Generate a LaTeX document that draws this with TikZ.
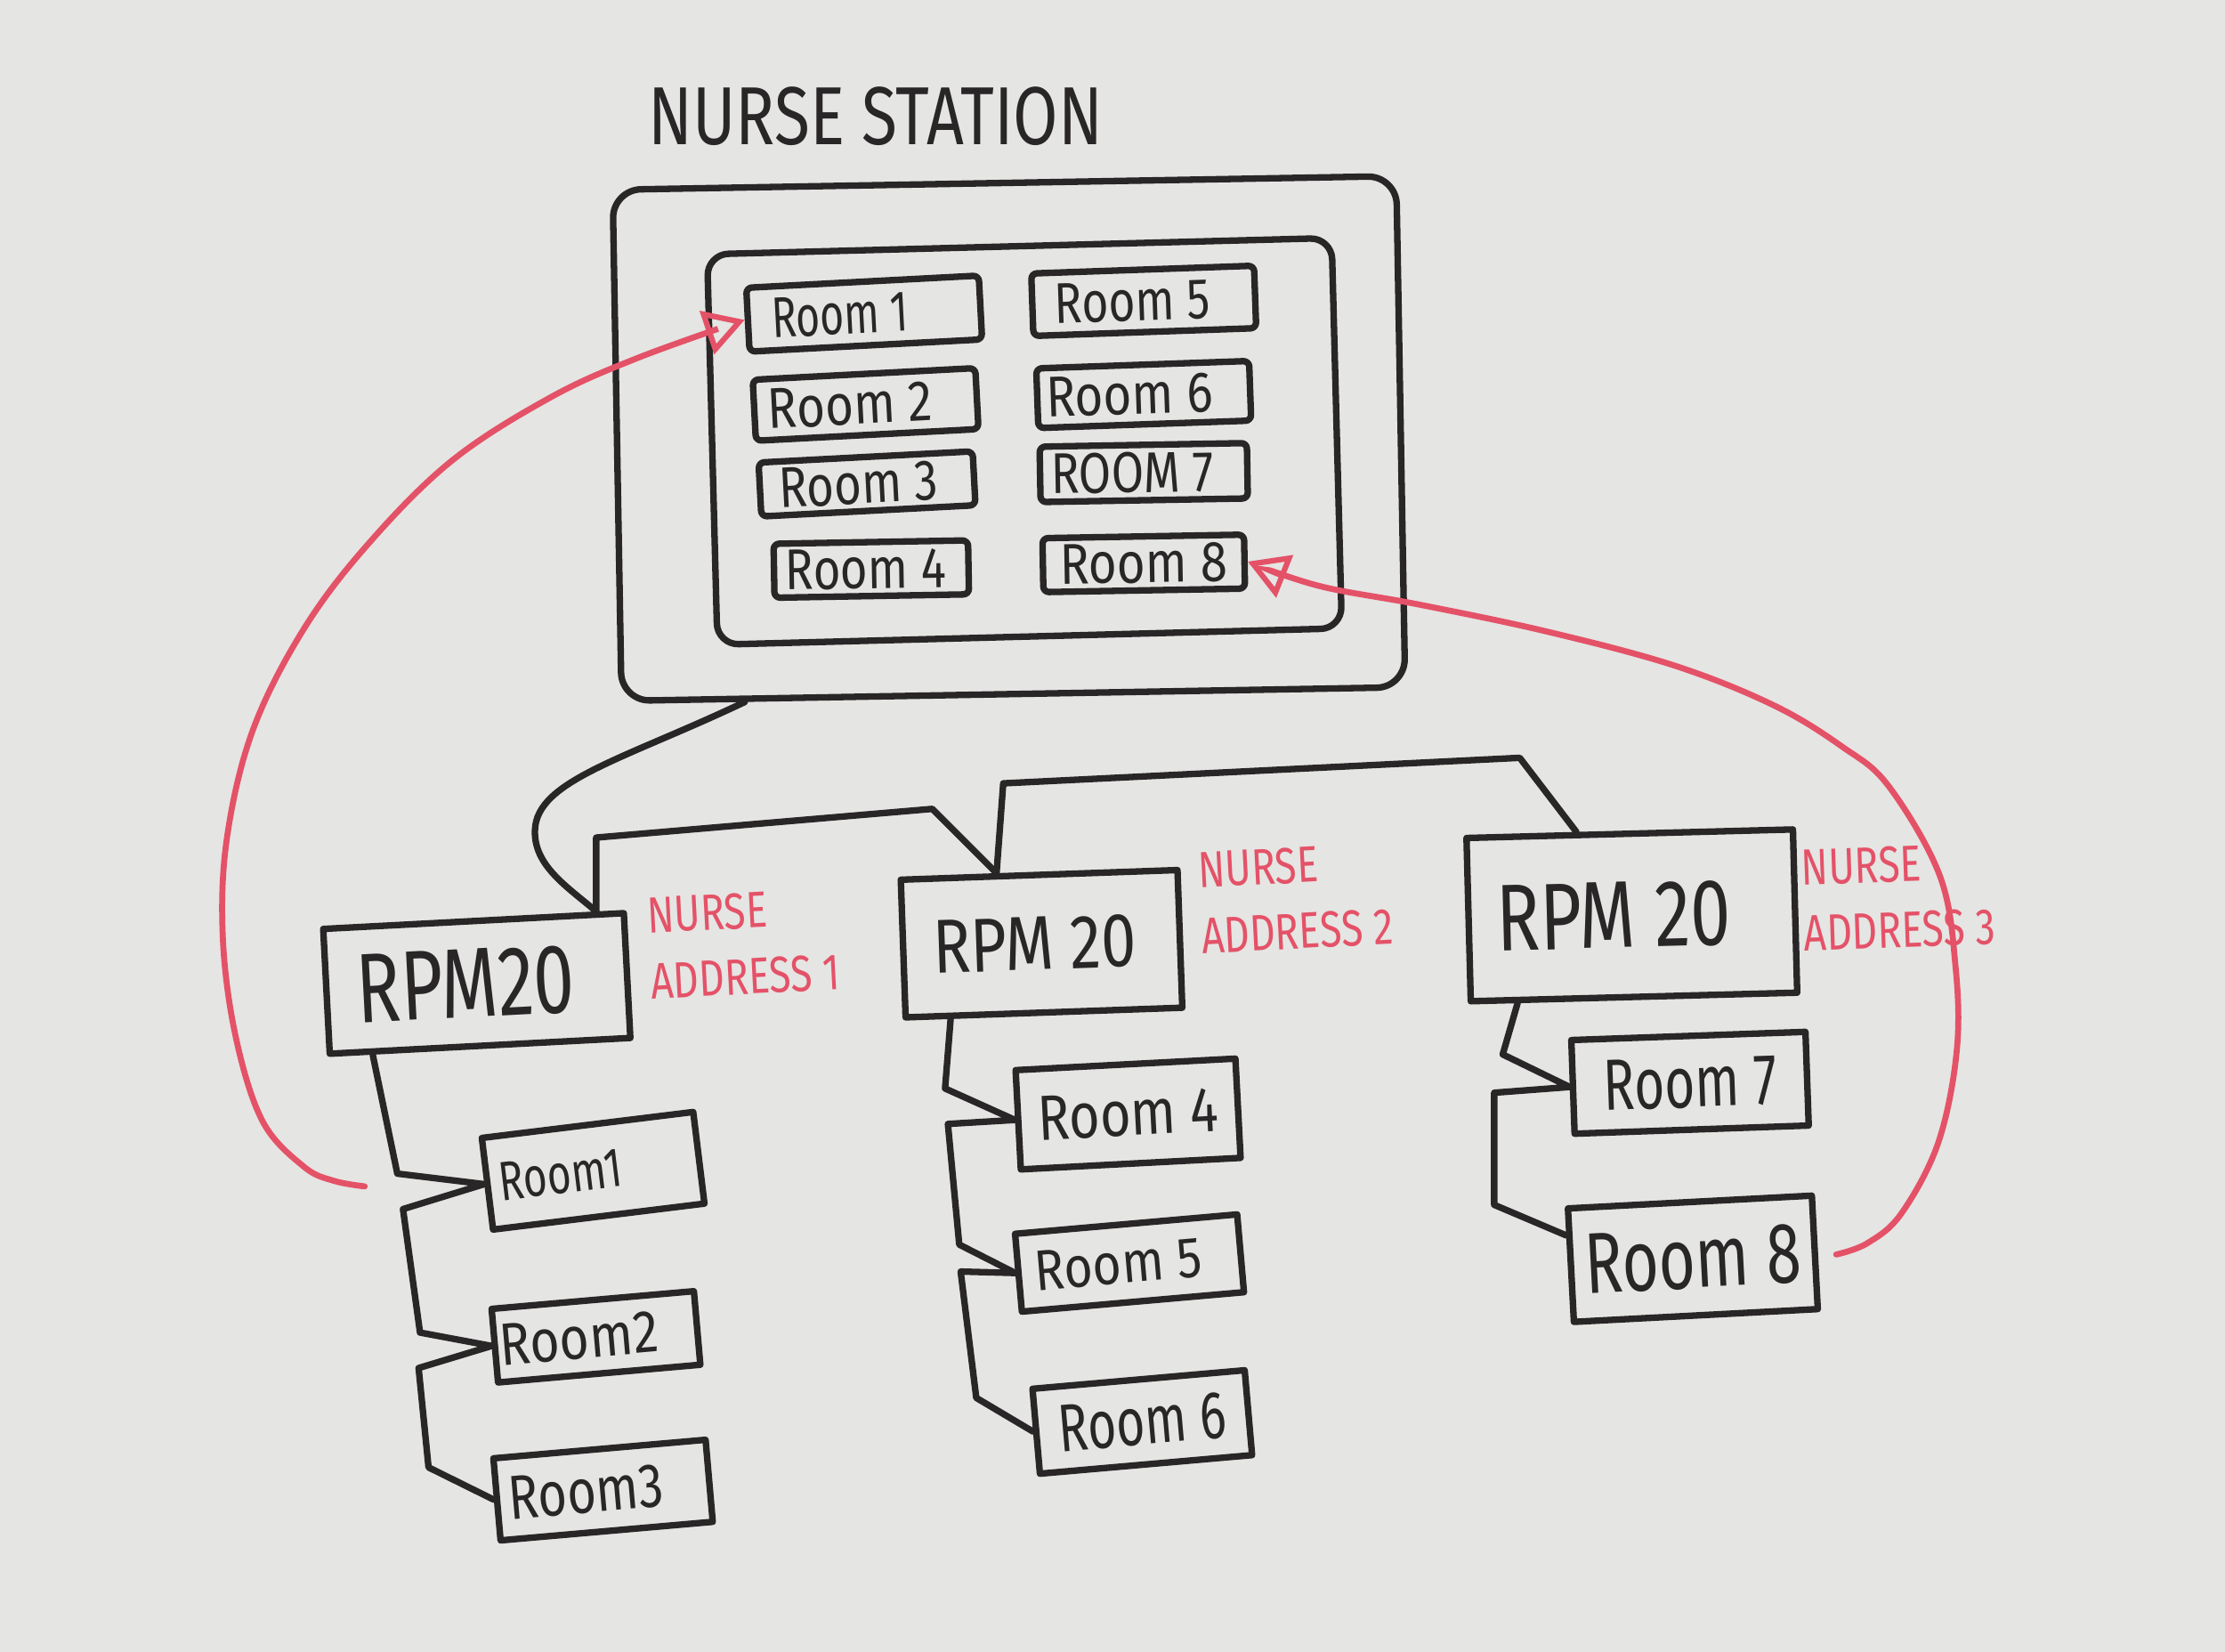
\documentclass[tikz,border=0pt]{standalone}
\usepackage{fontspec}
\setmainfont{Fira Sans}
\usetikzlibrary{arrows.meta,calc}
\definecolor{board}{RGB}{229,229,227}
\definecolor{ink}{RGB}{40,38,38}
\definecolor{redm}{RGB}{228,82,104}
\newcommand{\sx}[2]{\scalebox{#1}[1]{#2}}
\newcommand{\hwsize}[1]{\fontsize{#1}{#1}\selectfont}
\begin{document}
\begin{tikzpicture}[x=0.01cm,y=-0.01cm,
  pen/.style={draw=ink,line width=1.3pt,line cap=round,line join=round},
  box/.style={pen,rectangle,inner sep=0pt,text=ink},
  scr/.style={box,rounded corners=0.04cm},
  rl/.style={draw=redm,line width=1.2pt,line cap=round},
  redtip/.style={-{Triangle[open,length=8pt,width=9pt,line width=1.1pt]}},
  addr/.style={text=redm,align=left,inner sep=0pt,font=\fontsize{10.2}{13.2}\selectfont},
]
\fill[board] (0,0) rectangle (1568,1164);
\useasboundingbox (0,0) rectangle (1568,1164);

% title
\node[text=ink,font=\hwsize{16.5}] (title) at (617,82) {\sx{0.79}{NURSE STATION}};

% nurse station screen
\node[box,rounded corners=0.2cm,minimum width=5.52cm,minimum height=3.6cm,rotate=1] (outer) at (711,309) {};
\node[box,rounded corners=0.15cm,minimum width=4.4cm,minimum height=2.75cm,rotate=1.5] (inner) at (722,311) {};

\node[scr,minimum width=1.64cm,minimum height=0.45cm,rotate=3,font=\hwsize{11.5}] (s1) at (609,221) {\sx{0.72}{Room 1}\hspace*{0.34cm}};
\node[scr,minimum width=1.57cm,minimum height=0.44cm,rotate=2,font=\hwsize{11.5}] (s5) at (806,212) {\sx{0.8}{Room 5}\hspace*{0.16cm}};
\node[scr,minimum width=1.57cm,minimum height=0.43cm,rotate=3,font=\hwsize{11.5}] (s2) at (610,285) {\sx{0.85}{Room 2}\hspace*{0.22cm}};
\node[scr,minimum width=1.5cm,minimum height=0.42cm,rotate=2,font=\hwsize{11.5}] (s6) at (806,278) {\sx{0.85}{Room 6}\hspace*{0.2cm}};
\node[scr,minimum width=1.51cm,minimum height=0.38cm,rotate=3,font=\hwsize{11.5}] (s3) at (611,341) {\sx{0.82}{Room 3}\hspace*{0.12cm}};
\node[scr,minimum width=1.46cm,minimum height=0.39cm,rotate=1,font=\hwsize{11.5}] (s7) at (806,333) {\sx{0.82}{ROOM 7}\hspace*{0.16cm}};
\node[scr,minimum width=1.37cm,minimum height=0.38cm,rotate=1,font=\hwsize{11.5}] (s4) at (614,401) {\sx{0.82}{Room 4}\hspace*{0.08cm}};
\node[scr,minimum width=1.42cm,minimum height=0.38cm,rotate=1,font=\hwsize{11.5}] (s8) at (806,397) {\sx{0.85}{Room 8}};

% RPM 20 units
\node[box,minimum width=2.12cm,minimum height=0.88cm,rotate=3,font=\hwsize{19.8}] (r1) at (336,693) {\sx{0.74}{RPM20}\hspace*{0.16cm}};
\node[box,minimum width=1.95cm,minimum height=0.97cm,rotate=2,font=\hwsize{15.3}] (r2) at (734,665) {\sx{0.82}{RPM 20}\hspace*{0.1cm}};
\node[box,minimum width=2.3cm,minimum height=1.15cm,rotate=1.5,font=\hwsize{19}] (r3) at (1150,645) {\sx{0.76}{RPM 20}\hspace*{0.26cm}};

% nurse addresses
\node[addr,rotate=3] (na1) at (524,665) {\sx{0.78}{NURSE}\\\sx{0.78}{ADDRESS 1}};
\node[addr,rotate=3] (na2) at (913,633) {\sx{0.78}{NURSE}\\\sx{0.78}{ADDRESS 2}};
\node[addr,rotate=2] (na3) at (1338,632) {\sx{0.78}{NURSE}\\\sx{0.78}{ADDRESS 3}};

% rooms
\node[box,minimum width=1.5cm,minimum height=0.65cm,rotate=7,font=\hwsize{11.1}] (l1) at (418,825) {\sx{0.74}{Room1}\hspace*{0.46cm}};
\node[box,minimum width=1.43cm,minimum height=0.52cm,rotate=5,font=\hwsize{12}] (l2) at (420,942) {\sx{0.85}{Room2}\hspace*{0.24cm}};
\node[box,minimum width=1.5cm,minimum height=0.58cm,rotate=5,font=\hwsize{12.5}] (l3) at (425,1050) {\sx{0.8}{Room3}\hspace*{0.24cm}};
\node[box,minimum width=1.55cm,minimum height=0.7cm,rotate=3,font=\hwsize{12.8}] (l4) at (795,785) {\sx{0.83}{Room 4}};
\node[box,minimum width=1.57cm,minimum height=0.55cm,rotate=5,font=\hwsize{11.5}] (l5) at (796,890) {\sx{0.86}{Room 5}\hspace*{0.16cm}};
\node[box,minimum width=1.5cm,minimum height=0.6cm,rotate=5,font=\hwsize{13.5}] (l6) at (805,1002) {\sx{0.73}{Room 6}};
\node[box,minimum width=1.65cm,minimum height=0.66cm,rotate=2,font=\hwsize{14.5}] (l7) at (1191,763) {\sx{0.72}{Room 7}};
\node[box,minimum width=1.72cm,minimum height=0.8cm,rotate=3,font=\hwsize{17.3}] (l8) at (1193,887) {\sx{0.73}{Room 8}};

% junction points on the boxes
\coordinate (st) at ($(outer.south west)!0.16!(outer.south east)$);
\coordinate (j1) at ($(r1.north west)!0.9!(r1.north east)$);
\coordinate (j2) at ($(r2.north west)!0.35!(r2.north east)$);
\coordinate (j3) at ($(r3.north west)!0.34!(r3.north east)$);
\coordinate (k1) at ($(r1.south west)!0.15!(r1.south east)$);
\coordinate (k2) at ($(r2.south west)!0.17!(r2.south east)$);
\coordinate (k3) at ($(r3.south west)!0.15!(r3.south east)$);
\coordinate (e8) at ($(l8.west)!0.5!(l8.north west)$);

% black wiring
\draw[pen] (st) .. controls (440,535) and (378,550) .. (377,585) .. controls (376,610) and (400,625) .. (j1);
\draw[pen] (j1) -- ++(0,-52) -- (657,570) -- (j2);
\draw[pen] (j2) -- (707,552) -- (1071,534) -- (j3);
\draw[pen] (k1) -- (280,827) -- (l1.west) -- (284,852) -- (296,939) -- (l2.west) -- (295,964) -- (302,1034) -- (l3.west);
\draw[pen] (k2) -- (666,767) -- (l4.west) -- (668,792) -- (676,877) -- (l5.west) -- (677,896) -- (688,985) -- (l6.west);
\draw[pen] (k3) -- (1059,743) -- (l7.west) -- (1053,770) -- (1053,849) -- (e8);

% red links
\coordinate (rs1) at (257,836);
\coordinate (rs2) at (1294,884);
\draw[rl,redtip] plot[smooth,tension=0.6] coordinates {(rs1) (235,832) (214,822) (185,790) (166,730) (157,660) (160,590) (178,515) (213,445) (258,385) (318,325) (388,280) (450,252) (s1.west)};
\draw[rl,redtip] plot[smooth,tension=0.6] coordinates {(rs2) (1316,876) (1340,855) (1366,805) (1379,740) (1378,680) (1367,617) (1331,554) (1298,526) (1250,497) (1180,469) (1090,445) (1000,426) (930,413) (s8.east)};
\end{tikzpicture}
\end{document}
